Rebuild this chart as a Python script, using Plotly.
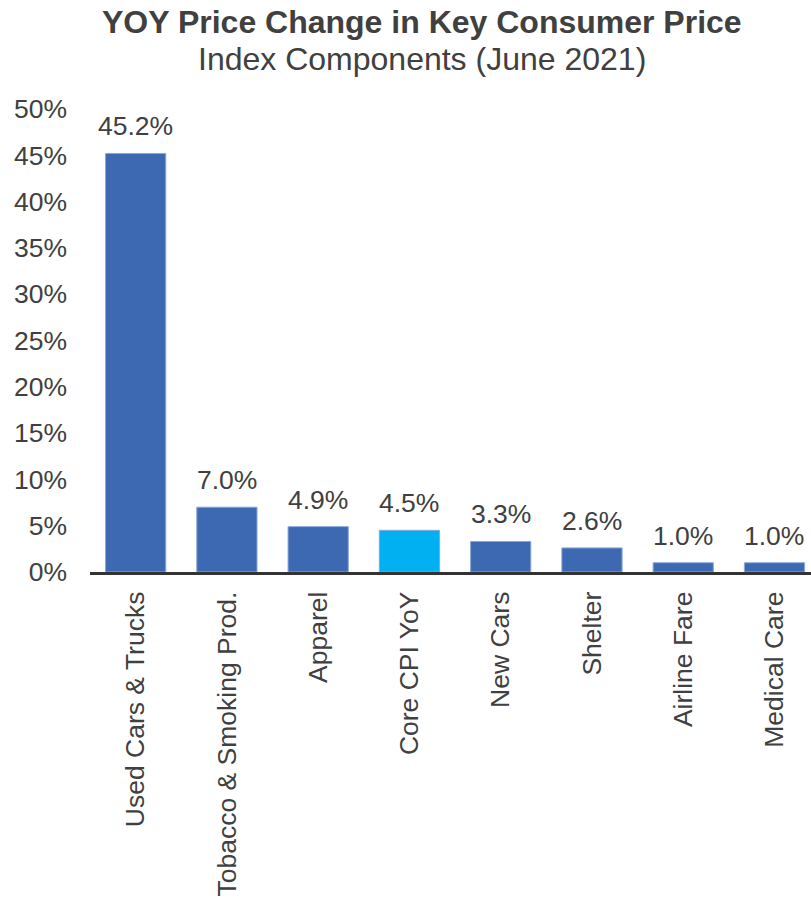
import plotly.graph_objects as go

categories = ["Used Cars & Trucks", "Tobacco & Smoking Prod.", "Apparel", "Core CPI YoY",
              "New Cars", "Shelter", "Airline Fare", "Medical Care"]
yoy_change = [45.2, 7.0, 4.9, 4.5, 3.3, 2.6, 1.0, 1.0]
tick_values = [0, 5, 10, 15, 20, 25, 30, 35, 40, 45, 50]
tick_labels = [f"{v}%" for v in tick_values]

BLUE = "#3D69B3"
CORE = "#00B0F0"
TEXT = "#404040"
FONT = "Liberation Sans, Arial, sans-serif"

W, H = 811, 899
M_L, M_R, M_T, M_B = 90, 0, 109, 327
plot_w = W - M_L - M_R
plot_h = H - M_T - M_B

colors = [CORE if c == "Core CPI YoY" else BLUE for c in categories]

fig = go.Figure(go.Bar(
    x=categories,
    y=yoy_change,
    width=0.66,
    marker=dict(color=colors, line=dict(color="#8AA8DA", width=1)),
    cliponaxis=False,
))

# value labels above each bar
for cat, val in zip(categories, yoy_change):
    fig.add_annotation(
        x=cat, y=val, text=f"{val:.1f}%",
        xref="x", yref="y", yanchor="bottom", yshift=10,
        showarrow=False,
        font=dict(size=26.5, color=TEXT, family=FONT),
    )

# two-line heading: bold first line, regular second line (positions in pixels)
title_cx = (422 - M_L) / plot_w
for text, row in [("<b>YOY Price Change in Key Consumer Price</b>", 22),
                  ("Index Components (June 2021)", 59)]:
    fig.add_annotation(
        x=title_cx, y=1 + (M_T - row) / plot_h,
        xref="paper", yref="paper", showarrow=False,
        text=text,
        font=dict(size=32, color=TEXT, family=FONT),
        xanchor="center", yanchor="middle",
    )

fig.update_layout(
    width=W, height=H,
    margin=dict(l=M_L, r=M_R, t=M_T, b=M_B),
    paper_bgcolor="white", plot_bgcolor="white",
    showlegend=False,
    font=dict(family=FONT, color=TEXT),
)

fig.update_xaxes(
    range=[-0.5, 7.4],
    tickangle=-90,
    tickfont=dict(size=26.5, color=TEXT, family=FONT),
    showline=True, linecolor="#333333", linewidth=3,
    ticks="", showgrid=False, ticklabelstandoff=6,
)
fig.update_yaxes(
    range=[0, 50],
    tickvals=tick_values, ticktext=tick_labels,
    tickfont=dict(size=26.5, color=TEXT, family=FONT),
    showgrid=False, zeroline=False, showline=False,
    ticks="", ticklabelstandoff=22,
)

fig.write_html("out.html")
